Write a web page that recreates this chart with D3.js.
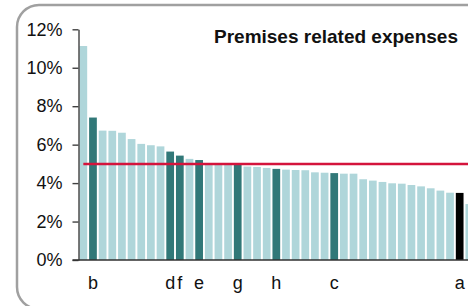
<!DOCTYPE html>
<html>
<head>
<meta charset="utf-8">
<script src="https://cdn.jsdelivr.net/npm/d3@7"></script>
<style>
  body { margin: 0; background: #fff; }
  svg { display: block; font-family: Arial, "Liberation Sans", sans-serif; }
</style>
</head>
<body>
<svg id="chart" width="468" height="306"></svg>
<script>
// share of premises related expenses, sorted desc (%)
const values = [11.13, 7.41, 6.73, 6.72, 6.62, 6.29, 6.04, 5.97, 5.91, 5.64,
  5.43, 5.26, 5.20, 5.04, 5.01, 5.00, 4.97, 4.86, 4.84, 4.79,
  4.74, 4.70, 4.68, 4.67, 4.56, 4.54, 4.52, 4.49, 4.49, 4.20,
  4.13, 4.06, 3.99, 3.97, 3.90, 3.83, 3.73, 3.61, 3.50, 3.49, 2.91];
// labels for the highlighted bars ('' = unnamed)
const labels = ['', 'b', '', '', '', '', '', '', '', 'd',
  'f', '', 'e', '', '', '', 'g', '', '', '',
  'h', '', '', '', '', '', 'c', '', '', '',
  '', '', '', '', '', '', '', '', '', 'a', ''];
const selfLabel = 'a';
const average = 5.0;
const yTicks = [0, 2, 4, 6, 8, 10, 12];
const title = 'Premises related expenses';

const svg = d3.select('#chart');
const W = 468, H = 306;

// rounded frame (cut off on the right and bottom)
svg.append('rect')
  .attr('x', 17).attr('y', 5)
  .attr('width', 480).attr('height', 304)
  .attr('rx', 22).attr('ry', 22)
  .attr('fill', 'none')
  .attr('stroke', '#a0a0a0')
  .attr('stroke-width', 2.5);

const x0 = 78.5, step = 9.65;
const x = d3.scaleBand()
  .domain(d3.range(values.length))
  .range([x0, x0 + step * values.length])
  .paddingInner(0.2)
  .paddingOuter(0.1);

const y = d3.scaleLinear().domain([0, 12]).range([260, 29.3]);

function barColor(i) {
  if (labels[i] === selfLabel) return '#000';
  if (labels[i]) return '#317878';
  return '#afd6da';
}

svg.append('g').selectAll('rect')
  .data(values)
  .join('rect')
    .attr('x', (d, i) => x(i))
    .attr('y', d => y(d))
    .attr('width', x.bandwidth())
    .attr('height', d => y(0) - y(d))
    .attr('fill', (d, i) => barColor(i));

// average line
svg.append('line')
  .attr('x1', x(0) + x.bandwidth() / 2).attr('x2', W + 10)
  .attr('y1', y(average)).attr('y2', y(average))
  .attr('stroke', '#d4143c')
  .attr('stroke-width', 2.5);

// y axis
const yAxis = svg.append('g')
  .attr('transform', `translate(${x0},0)`)
  .call(d3.axisLeft(y).tickValues(yTicks).tickFormat(d => d + '%')
    .tickSize(6).tickSizeOuter(0).tickPadding(10));
yAxis.select('.domain').attr('stroke', '#404040').attr('stroke-width', 1.4);
yAxis.selectAll('.tick line').attr('stroke', '#404040').attr('stroke-width', 1.4);
yAxis.selectAll('.tick text')
  .attr('font-size', 18).attr('fill', '#111')
  .attr('font-family', 'Arial, "Liberation Sans", sans-serif');

// baseline
svg.append('line')
  .attr('x1', x0 - 6).attr('x2', W + 10)
  .attr('y1', y(0)).attr('y2', y(0))
  .attr('stroke', '#303030')
  .attr('stroke-width', 1.6);

// category labels
svg.append('g').selectAll('text')
  .data(labels.map((l, i) => ({l, i})).filter(d => d.l))
  .join('text')
    .attr('x', d => x(d.i) + x.bandwidth() / 2)
    .attr('y', 289)
    .attr('text-anchor', 'middle')
    .attr('font-size', 18)
    .attr('fill', '#111')
    .text(d => d.l);

// title
svg.append('text')
  .attr('x', 458).attr('y', 43)
  .attr('text-anchor', 'end')
  .attr('font-size', 19)
  .attr('font-weight', 'bold')
  .attr('fill', '#111')
  .text(title);
</script>
</body>
</html>
